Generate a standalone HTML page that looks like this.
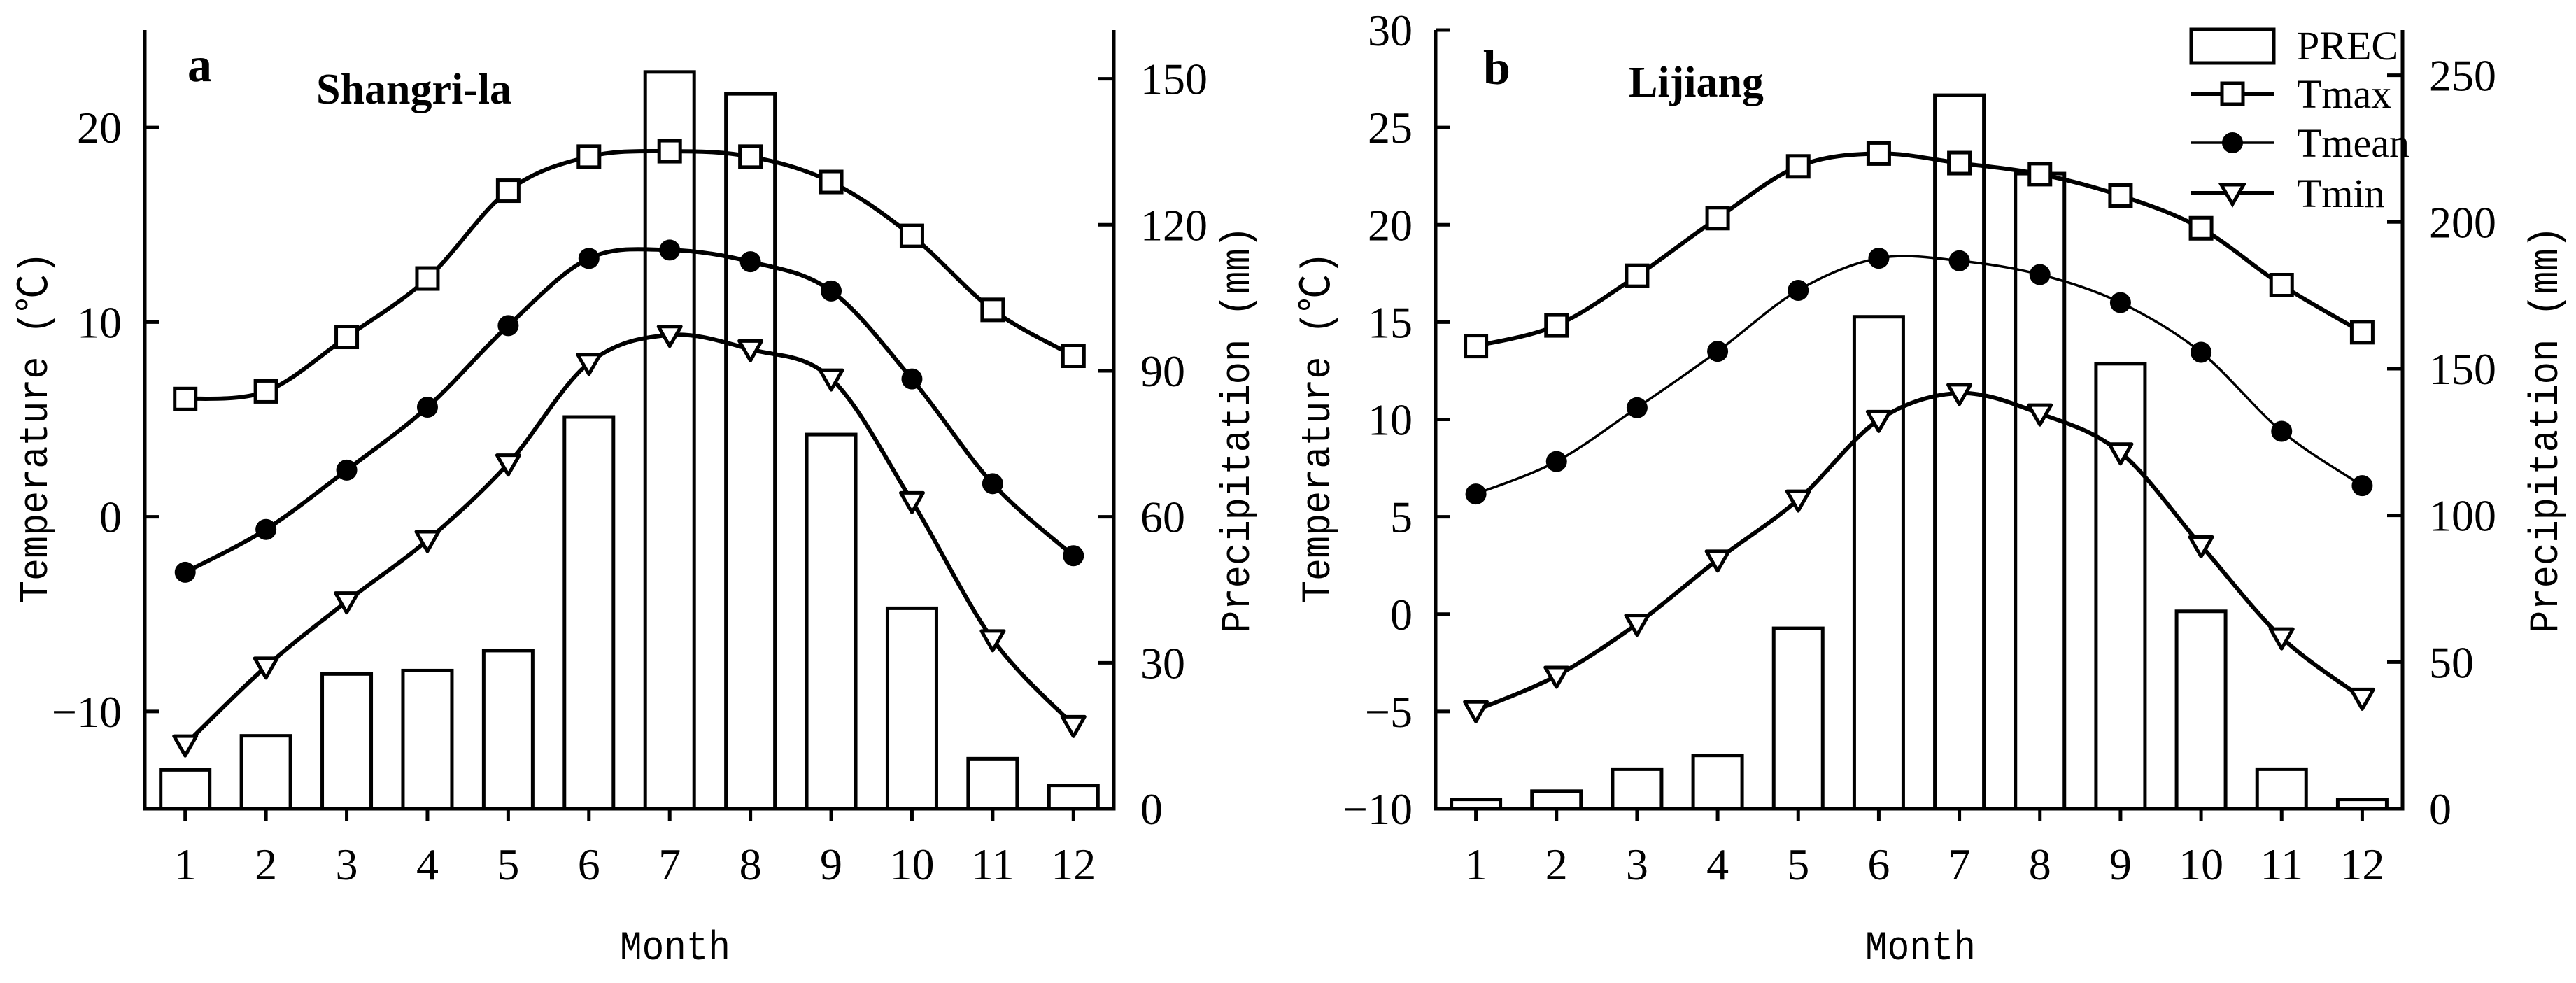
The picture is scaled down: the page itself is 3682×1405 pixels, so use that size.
<!DOCTYPE html>
<html><head><meta charset="utf-8"><style>
html,body{margin:0;padding:0;background:#fff;}
svg{display:block;}
</style></head><body>
<svg id="chart" width="3682" height="1405" viewBox="0 0 3682 1405" xmlns="http://www.w3.org/2000/svg"></svg>
<script>
const months = ["1","2","3","4","5","6","7","8","9","10","11","12"];
const precA = [8,15,27.7,28.4,32.5,80.5,151.4,146.9,76.9,41.2,10.3,4.8];
const tmaxA = [6.05,6.44,9.24,12.24,16.75,18.5,18.78,18.5,17.2,14.43,10.63,8.27];
const tmeanA = [-2.85,-0.65,2.4,5.63,9.82,13.27,13.7,13.1,11.6,7.08,1.7,-2.0];
const tminA = [-11.7,-7.7,-4.35,-1.2,2.73,7.9,9.34,8.6,7.1,0.8,-6.3,-10.7];
const precB = [3.2,6,13.5,18.2,61.5,167.7,243.2,216.5,151.7,67.3,13.5,3.2];
const tmaxB = [13.77,14.83,17.38,20.34,23.0,23.66,23.17,22.6,21.5,19.82,16.9,14.48];
const tmeanB = [6.17,7.84,10.6,13.5,16.63,18.28,18.15,17.44,16.0,13.45,9.39,6.6];
const tminB = [-4.94,-3.17,-0.5,2.8,5.88,9.97,11.35,10.3,8.3,3.53,-1.2,-4.3];
const tTicksA = [-10,0,10,20];
const pTicksA = [0,30,60,90,120,150];
const tTicksB = [-10,-5,0,5,10,15,20,25,30];
const pTicksB = [0,50,100,150,200,250];

const NS="http://www.w3.org/2000/svg";
const svg=document.getElementById('chart');
function mk(tag,attrs,parent){const e=document.createElementNS(NS,tag);for(const k in attrs)e.setAttribute(k,attrs[k]);(parent||svg).appendChild(e);return e;}
const SERIF='"Liberation Serif", serif';

function spline(pts){
  let d=`M${pts[0][0]},${pts[0][1]}`;
  for(let i=0;i<pts.length-1;i++){
    const p0=pts[Math.max(0,i-1)],p1=pts[i],p2=pts[i+1],p3=pts[Math.min(pts.length-1,i+2)];
    const c1=[p1[0]+(p2[0]-p0[0])/6,p1[1]+(p2[1]-p0[1])/6];
    const c2=[p2[0]-(p3[0]-p1[0])/6,p2[1]-(p3[1]-p1[1])/6];
    d+=` C${c1[0]},${c1[1]} ${c2[0]},${c2[1]} ${p2[0]},${p2[1]}`;
  }
  return d;
}

function panel(o){
  const g=mk('g',{});
  
  
  const L=o.left,R=o.right,T=43,B=1156;
  const step=(R-L)/12;
  const xs=i=>L+(i+0.5)*step;
  const yT=v=>B-(v-o.tMin)/(o.tMax-o.tMin)*(B-T);
  const yP=v=>B-v/o.pMax*(B-T);
  o.prec.forEach((v,i)=>{
    const r=mk('rect',{x:xs(i)-35,y:yP(v),width:70,height:B-yP(v),fill:'#fff',stroke:'#000','stroke-width':5},g);
    
    
  });
  const ax=mk('path',{d:`M${L},${T} L${L},${B} L${R},${B} L${R},${T}`,fill:'none',stroke:'#000','stroke-width':5},g);
  
  
  o.tTicks.forEach(v=>{
    mk('line',{x1:L,x2:L+20,y1:yT(v),y2:yT(v),stroke:'#000','stroke-width':5},g);
    const t=mk('text',{x:L-33,y:yT(v)+22,'text-anchor':'end','font-family':SERIF,'font-size':64},g);
    t.textContent=(v<0?'\u2212'+(-v):v);
    
    
  });
  o.pTicks.forEach(v=>{
    mk('line',{x1:R-22,x2:R,y1:yP(v),y2:yP(v),stroke:'#000','stroke-width':5},g);
    const t=mk('text',{x:R+38,y:yP(v)+22,'font-family':SERIF,'font-size':64},g);
    t.textContent=v;
    
    
  });
  months.forEach((m,i)=>{
    mk('line',{x1:xs(i),x2:xs(i),y1:B,y2:B+18,stroke:'#000','stroke-width':5},g);
    const t=mk('text',{x:xs(i),y:1257,'text-anchor':'middle','font-family':SERIF,'font-size':64},g);
    t.textContent=m;
    
    
  });
  const series=[[o.tmax,'square',6],[o.tmean,'circle',o.meanW],[o.tmin,'tri',6]];
  series.forEach(([data,mkType,w])=>{
    const pts=data.map((v,i)=>[xs(i),yT(v)]);
    const p=mk('path',{d:spline(pts),fill:'none',stroke:'#000','stroke-width':w},g);
    
    
    pts.forEach(([x,y])=>{
      let m;
      if(mkType==='square') m=mk('rect',{x:x-15,y:y-15,width:30,height:30,fill:'#fff',stroke:'#000','stroke-width':5},g);
      else if(mkType==='circle') m=mk('circle',{cx:x,cy:y,r:15,fill:'#000'},g);
      else m=mk('path',{d:`M${x-16},${y-12} L${x+16},${y-12} L${x},${y+16} Z`,fill:'#fff',stroke:'#000','stroke-width':5,'stroke-linejoin':'round'},g);
      
      
    });
  });
  const lt=mk('text',{x:o.letterX,y:o.letterY,'font-family':SERIF,'font-size':70,'font-weight':'bold'},g);
  lt.textContent=o.letter;
  
  
  const st=mk('text',{x:o.siteX,y:o.siteY,'font-family':SERIF,'font-size':62,'font-weight':'bold'},g);
  st.textContent=o.site;
  
  
  const yt=mk('text',{x:0,y:0,transform:`translate(${o.ytX},611) rotate(-90)`,'text-anchor':'middle','font-family':'"Liberation Mono", "Noto Sans CJK SC", monospace','font-size':58,textLength:502,lengthAdjust:'spacingAndGlyphs'},g);
  yt.textContent='Temperature (\u2103)';
  
  
  const pt=mk('text',{x:0,y:0,transform:`translate(${o.ptX},614) rotate(-90)`,'text-anchor':'middle','font-family':'"Liberation Mono", monospace','font-size':58,textLength:582,lengthAdjust:'spacingAndGlyphs'},g);
  pt.textContent='Precipitation (mm)';
  
  
  const mt=mk('text',{x:o.monthX,y:1371,'text-anchor':'middle','font-family':'"Liberation Mono", monospace','font-size':58,textLength:158,lengthAdjust:'spacingAndGlyphs'},g);
  mt.textContent='Month';
  
  
}

panel({name:'panel-a-shangri-la',left:207,right:1592,tMin:-15,tMax:25,pMax:160,prec:precA,tmax:tmaxA,tmean:tmeanA,tmin:tminA,tTicks:tTicksA,pTicks:pTicksA,meanW:6,letter:'a',letterX:268,letterY:116,site:'Shangri-la',siteX:452,siteY:148,ytX:67,ptX:1785,monthX:965});
panel({name:'panel-b-lijiang',left:2052,right:3434,tMin:-10,tMax:30,pMax:265.4,prec:precB,tmax:tmaxB,tmean:tmeanB,tmin:tminB,tTicks:tTicksB,pTicks:pTicksB,meanW:3.5,letter:'b',letterX:2120,letterY:120,site:'Lijiang',siteX:2328,siteY:138,ytX:1900,ptX:3655,monthX:2745});

const lg=mk('g',{});


const lr=mk('rect',{x:3132,y:42,width:118,height:48,fill:'#fff',stroke:'#000','stroke-width':5},lg);


const legItems=[['PREC',null,85],['Tmax','square',134],['Tmean','circle',204],['Tmin','tri',276]];
legItems.forEach(([lab,type,y])=>{
  if(type){
    mk('line',{x1:3132,x2:3250,y1:y,y2:y,stroke:'#000','stroke-width':type==='circle'?3.5:6},lg);
    const x=3191;let m;
    if(type==='square') m=mk('rect',{x:x-15,y:y-15,width:30,height:30,fill:'#fff',stroke:'#000','stroke-width':5},lg);
    else if(type==='circle') m=mk('circle',{cx:x,cy:y,r:15,fill:'#000'},lg);
    else m=mk('path',{d:`M${x-16},${y-12} L${x+16},${y-12} L${x},${y+16} Z`,fill:'#fff',stroke:'#000','stroke-width':5},lg);
    
    
  }
  const t=mk('text',{x:3283,y:type?y+20:y,'font-family':SERIF,'font-size':58},lg);
  t.textContent=lab;
  
  
});
</script>
</body></html>
